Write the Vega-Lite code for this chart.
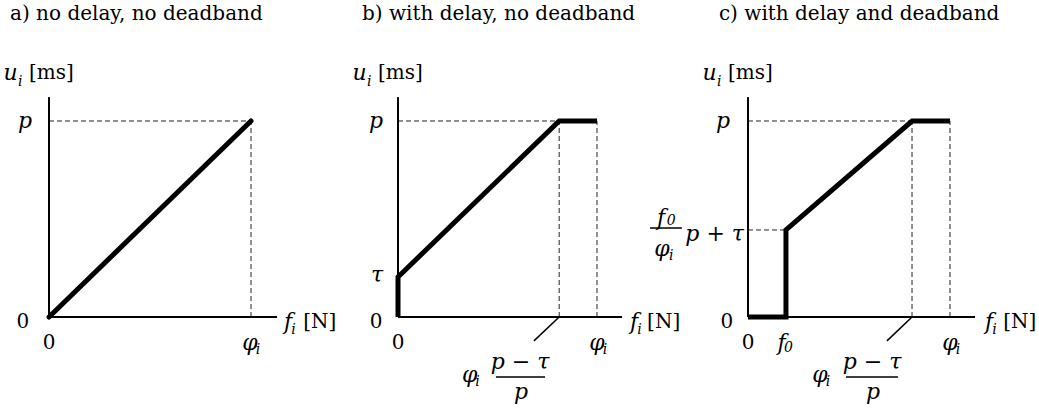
{
  "$schema": "https://vega.github.io/schema/vega-lite/v6.json",
  "padding": 0,
  "spacing": 0,
  "bounds": "flush",
  "background": "white",
  "config": {"view": {"stroke": null}, "text": {"font": "DejaVu Serif", "color": "black", "baseline": "middle"}},
  "datasets": {
    "curves": [
      {"panel": "a", "order": 1, "f": 0, "u": 0},
      {"panel": "a", "order": 2, "f": 1, "u": 1},
      {"panel": "b", "order": 1, "f": 0, "u": 0},
      {"panel": "b", "order": 2, "f": 0, "u": 0.204},
      {"panel": "b", "order": 3, "f": 0.81, "u": 1},
      {"panel": "b", "order": 4, "f": 1, "u": 1},
      {"panel": "c", "order": 1, "f": 0, "u": 0},
      {"panel": "c", "order": 2, "f": 0.188, "u": 0},
      {"panel": "c", "order": 3, "f": 0.188, "u": 0.444},
      {"panel": "c", "order": 4, "f": 0.812, "u": 1},
      {"panel": "c", "order": 5, "f": 1, "u": 1}
    ],
    "axes": [
      {"panel": "a", "f": 0, "u": 0, "f2": 0, "u2": 1.122},
      {"panel": "a", "f": 0, "u": 0, "f2": 1.129, "u2": 0},
      {"panel": "b", "f": 0, "u": 0, "f2": 0, "u2": 1.122},
      {"panel": "b", "f": 0, "u": 0, "f2": 1.126, "u2": 0},
      {"panel": "c", "f": 0, "u": 0, "f2": 0, "u2": 1.122},
      {"panel": "c", "f": 0, "u": 0, "f2": 1.124, "u2": 0}
    ],
    "guides": [
      {"panel": "a", "f": 0, "u": 1, "f2": 1, "u2": 1},
      {"panel": "a", "f": 1, "u": 0, "f2": 1, "u2": 1},
      {"panel": "b", "f": 0, "u": 1, "f2": 0.81, "u2": 1},
      {"panel": "b", "f": 0.81, "u": 0, "f2": 0.81, "u2": 1},
      {"panel": "b", "f": 1, "u": 0, "f2": 1, "u2": 1},
      {"panel": "c", "f": 0, "u": 0.444, "f2": 0.188, "u2": 0.444},
      {"panel": "c", "f": 0, "u": 1, "f2": 0.812, "u2": 1},
      {"panel": "c", "f": 0.812, "u": 0, "f2": 0.812, "u2": 1},
      {"panel": "c", "f": 1, "u": 0, "f2": 1, "u2": 1}
    ],
    "strokes": [
      {"panel": "b", "f": 0.81, "u": 0, "f2": 0.683, "u2": -0.122},
      {"panel": "b", "f": 0.492, "u": -0.306, "f2": 0.739, "u2": -0.306},
      {"panel": "c", "f": 0.812, "u": 0, "f2": 0.688, "u2": -0.122},
      {"panel": "c", "f": 0.485, "u": -0.306, "f2": 0.743, "u2": -0.306},
      {"panel": "c", "f": -0.485, "u": 0.454, "f2": -0.327, "u2": 0.454}
    ],
    "labels": [
      {"panel": "a", "role": "title", "f": -0.193, "u": 1.546, "text": "a) no delay, no deadband"},
      {"panel": "a", "role": "math", "f": -0.19, "u": 1.245, "text": "u"},
      {"panel": "a", "role": "sub", "f": -0.142, "u": 1.2, "text": "i"},
      {"panel": "a", "role": "upright", "f": 0.012, "u": 1.245, "text": "[ms]"},
      {"panel": "a", "role": "math", "f": -0.119, "u": 1, "text": "p"},
      {"panel": "a", "role": "upright", "f": -0.129, "u": -0.026, "text": "0"},
      {"panel": "a", "role": "upright", "f": 0, "u": -0.133, "text": "0"},
      {"panel": "a", "role": "math", "f": 0.995, "u": -0.133, "text": "φ"},
      {"panel": "a", "role": "sub", "f": 1.035, "u": -0.168, "text": "i"},
      {"panel": "a", "role": "math", "f": 1.183, "u": -0.026, "text": "f"},
      {"panel": "a", "role": "sub", "f": 1.21, "u": -0.066, "text": "i"},
      {"panel": "a", "role": "upright", "f": 1.34, "u": -0.026, "text": "[N]"},

      {"panel": "b", "role": "title", "f": -0.181, "u": 1.546, "text": "b) with delay, no deadband"},
      {"panel": "b", "role": "math", "f": -0.193, "u": 1.245, "text": "u"},
      {"panel": "b", "role": "sub", "f": -0.145, "u": 1.2, "text": "i"},
      {"panel": "b", "role": "upright", "f": 0.012, "u": 1.245, "text": "[ms]"},
      {"panel": "b", "role": "math", "f": -0.11, "u": 1, "text": "p"},
      {"panel": "b", "role": "math", "f": -0.105, "u": 0.214, "text": "τ"},
      {"panel": "b", "role": "upright", "f": -0.11, "u": -0.026, "text": "0"},
      {"panel": "b", "role": "upright", "f": 0, "u": -0.133, "text": "0"},
      {"panel": "b", "role": "math", "f": 1, "u": -0.133, "text": "φ"},
      {"panel": "b", "role": "sub", "f": 1.04, "u": -0.168, "text": "i"},
      {"panel": "b", "role": "math", "f": 1.186, "u": -0.026, "text": "f"},
      {"panel": "b", "role": "sub", "f": 1.213, "u": -0.066, "text": "i"},
      {"panel": "b", "role": "upright", "f": 1.335, "u": -0.026, "text": "[N]"},
      {"panel": "b", "role": "math", "f": 0.36, "u": -0.296, "text": "φ"},
      {"panel": "b", "role": "sub", "f": 0.4, "u": -0.332, "text": "i"},
      {"panel": "b", "role": "math", "f": 0.613, "u": -0.23, "text": "p − τ"},
      {"panel": "b", "role": "math", "f": 0.618, "u": -0.383, "text": "p"},

      {"panel": "c", "role": "title", "f": -0.144, "u": 1.546, "text": "c) with delay and deadband"},
      {"panel": "c", "role": "math", "f": -0.19, "u": 1.245, "text": "u"},
      {"panel": "c", "role": "sub", "f": -0.142, "u": 1.2, "text": "i"},
      {"panel": "c", "role": "upright", "f": 0.012, "u": 1.245, "text": "[ms]"},
      {"panel": "c", "role": "math", "f": -0.124, "u": 1, "text": "p"},
      {"panel": "c", "role": "upright", "f": -0.105, "u": -0.026, "text": "0"},
      {"panel": "c", "role": "upright", "f": 0, "u": -0.133, "text": "0"},
      {"panel": "c", "role": "math", "f": 0.166, "u": -0.133, "text": "f"},
      {"panel": "c", "role": "sub", "f": 0.2, "u": -0.16, "text": "0"},
      {"panel": "c", "role": "math", "f": 1, "u": -0.133, "text": "φ"},
      {"panel": "c", "role": "sub", "f": 1.04, "u": -0.168, "text": "i"},
      {"panel": "c", "role": "math", "f": 1.193, "u": -0.026, "text": "f"},
      {"panel": "c", "role": "sub", "f": 1.22, "u": -0.066, "text": "i"},
      {"panel": "c", "role": "upright", "f": 1.345, "u": -0.026, "text": "[N]"},
      {"panel": "c", "role": "math", "f": -0.43, "u": 0.505, "text": "f"},
      {"panel": "c", "role": "sub", "f": -0.38, "u": 0.49, "text": "0"},
      {"panel": "c", "role": "math", "f": -0.426, "u": 0.345, "text": "φ"},
      {"panel": "c", "role": "sub", "f": -0.38, "u": 0.31, "text": "i"},
      {"panel": "c", "role": "math", "f": -0.165, "u": 0.423, "text": "p + τ"},
      {"panel": "c", "role": "math", "f": 0.356, "u": -0.296, "text": "φ"},
      {"panel": "c", "role": "sub", "f": 0.396, "u": -0.332, "text": "i"},
      {"panel": "c", "role": "math", "f": 0.614, "u": -0.23, "text": "p − τ"},
      {"panel": "c", "role": "math", "f": 0.619, "u": -0.383, "text": "p"}
    ]
  },
  "hconcat": [
    {
      "width": 340,
      "height": 414,
      "encoding": {
        "x": {"field": "f", "type": "quantitative", "scale": {"domain": [-0.2426, 1.4406], "nice": false, "zero": false}, "axis": null},
        "y": {"field": "u", "type": "quantitative", "scale": {"domain": [-0.4949, 1.6173], "nice": false, "zero": false}, "axis": null}
      },
      "layer": [
        {"data": {"name": "guides"}, "transform": [{"filter": "datum.panel == 'a'"}], "mark": {"type": "rule", "strokeDash": [5, 3], "strokeWidth": 1, "color": "#222"}, "encoding": {"x2": {"field": "f2"}, "y2": {"field": "u2"}}},
        {"data": {"name": "axes"}, "transform": [{"filter": "datum.panel == 'a'"}], "mark": {"type": "rule", "strokeWidth": 2, "color": "black"}, "encoding": {"x2": {"field": "f2"}, "y2": {"field": "u2"}}},
        {"data": {"name": "curves"}, "transform": [{"filter": "datum.panel == 'a'"}], "mark": {"type": "line", "strokeWidth": 5, "color": "black", "strokeCap": "round", "strokeJoin": "miter"}, "encoding": {"order": {"field": "order", "type": "quantitative"}}},
        {"data": {"name": "labels"}, "transform": [{"filter": "datum.panel == 'a' && datum.role == 'title'"}], "mark": {"type": "text", "fontSize": 20, "align": "left"}, "encoding": {"text": {"field": "text"}}},
        {"data": {"name": "labels"}, "transform": [{"filter": "datum.panel == 'a' && datum.role == 'math'"}], "mark": {"type": "text", "fontStyle": "italic", "fontSize": 22, "align": "center"}, "encoding": {"text": {"field": "text"}}},
        {"data": {"name": "labels"}, "transform": [{"filter": "datum.panel == 'a' && datum.role == 'upright'"}], "mark": {"type": "text", "fontSize": 20, "align": "center"}, "encoding": {"text": {"field": "text"}}},
        {"data": {"name": "labels"}, "transform": [{"filter": "datum.panel == 'a' && datum.role == 'sub'"}], "mark": {"type": "text", "fontStyle": "italic", "fontSize": 14, "align": "center"}, "encoding": {"text": {"field": "text"}}}
      ]
    },
    {
      "width": 340,
      "height": 414,
      "encoding": {
        "x": {"field": "f", "type": "quantitative", "scale": {"domain": [-0.2915, 1.4171], "nice": false, "zero": false}, "axis": null},
        "y": {"field": "u", "type": "quantitative", "scale": {"domain": [-0.4949, 1.6173], "nice": false, "zero": false}, "axis": null}
      },
      "layer": [
        {"data": {"name": "guides"}, "transform": [{"filter": "datum.panel == 'b'"}], "mark": {"type": "rule", "strokeDash": [5, 3], "strokeWidth": 1, "color": "#222"}, "encoding": {"x2": {"field": "f2"}, "y2": {"field": "u2"}}},
        {"data": {"name": "strokes"}, "transform": [{"filter": "datum.panel == 'b'"}], "mark": {"type": "rule", "strokeWidth": 1.5, "color": "black"}, "encoding": {"x2": {"field": "f2"}, "y2": {"field": "u2"}}},
        {"data": {"name": "axes"}, "transform": [{"filter": "datum.panel == 'b'"}], "mark": {"type": "rule", "strokeWidth": 2, "color": "black"}, "encoding": {"x2": {"field": "f2"}, "y2": {"field": "u2"}}},
        {"data": {"name": "curves"}, "transform": [{"filter": "datum.panel == 'b'"}], "mark": {"type": "line", "strokeWidth": 5, "color": "black", "strokeCap": "butt", "strokeJoin": "miter"}, "encoding": {"order": {"field": "order", "type": "quantitative"}}},
        {"data": {"name": "labels"}, "transform": [{"filter": "datum.panel == 'b' && datum.role == 'title'"}], "mark": {"type": "text", "fontSize": 20, "align": "left"}, "encoding": {"text": {"field": "text"}}},
        {"data": {"name": "labels"}, "transform": [{"filter": "datum.panel == 'b' && datum.role == 'math'"}], "mark": {"type": "text", "fontStyle": "italic", "fontSize": 22, "align": "center"}, "encoding": {"text": {"field": "text"}}},
        {"data": {"name": "labels"}, "transform": [{"filter": "datum.panel == 'b' && datum.role == 'upright'"}], "mark": {"type": "text", "fontSize": 20, "align": "center"}, "encoding": {"text": {"field": "text"}}},
        {"data": {"name": "labels"}, "transform": [{"filter": "datum.panel == 'b' && datum.role == 'sub'"}], "mark": {"type": "text", "fontStyle": "italic", "fontSize": 14, "align": "center"}, "encoding": {"text": {"field": "text"}}}
      ]
    },
    {
      "width": 359,
      "height": 414,
      "encoding": {
        "x": {"field": "f", "type": "quantitative", "scale": {"domain": [-0.3366, 1.4406], "nice": false, "zero": false}, "axis": null},
        "y": {"field": "u", "type": "quantitative", "scale": {"domain": [-0.4949, 1.6173], "nice": false, "zero": false}, "axis": null}
      },
      "layer": [
        {"data": {"name": "guides"}, "transform": [{"filter": "datum.panel == 'c'"}], "mark": {"type": "rule", "strokeDash": [5, 3], "strokeWidth": 1, "color": "#222"}, "encoding": {"x2": {"field": "f2"}, "y2": {"field": "u2"}}},
        {"data": {"name": "strokes"}, "transform": [{"filter": "datum.panel == 'c'"}], "mark": {"type": "rule", "strokeWidth": 1.5, "color": "black"}, "encoding": {"x2": {"field": "f2"}, "y2": {"field": "u2"}}},
        {"data": {"name": "axes"}, "transform": [{"filter": "datum.panel == 'c'"}], "mark": {"type": "rule", "strokeWidth": 2, "color": "black"}, "encoding": {"x2": {"field": "f2"}, "y2": {"field": "u2"}}},
        {"data": {"name": "curves"}, "transform": [{"filter": "datum.panel == 'c'"}], "mark": {"type": "line", "strokeWidth": 5, "color": "black", "strokeCap": "butt", "strokeJoin": "miter"}, "encoding": {"order": {"field": "order", "type": "quantitative"}}},
        {"data": {"name": "labels"}, "transform": [{"filter": "datum.panel == 'c' && datum.role == 'title'"}], "mark": {"type": "text", "fontSize": 20, "align": "left"}, "encoding": {"text": {"field": "text"}}},
        {"data": {"name": "labels"}, "transform": [{"filter": "datum.panel == 'c' && datum.role == 'math'"}], "mark": {"type": "text", "fontStyle": "italic", "fontSize": 22, "align": "center"}, "encoding": {"text": {"field": "text"}}},
        {"data": {"name": "labels"}, "transform": [{"filter": "datum.panel == 'c' && datum.role == 'upright'"}], "mark": {"type": "text", "fontSize": 20, "align": "center"}, "encoding": {"text": {"field": "text"}}},
        {"data": {"name": "labels"}, "transform": [{"filter": "datum.panel == 'c' && datum.role == 'sub'"}], "mark": {"type": "text", "fontStyle": "italic", "fontSize": 14, "align": "center"}, "encoding": {"text": {"field": "text"}}}
      ]
    }
  ]
}
